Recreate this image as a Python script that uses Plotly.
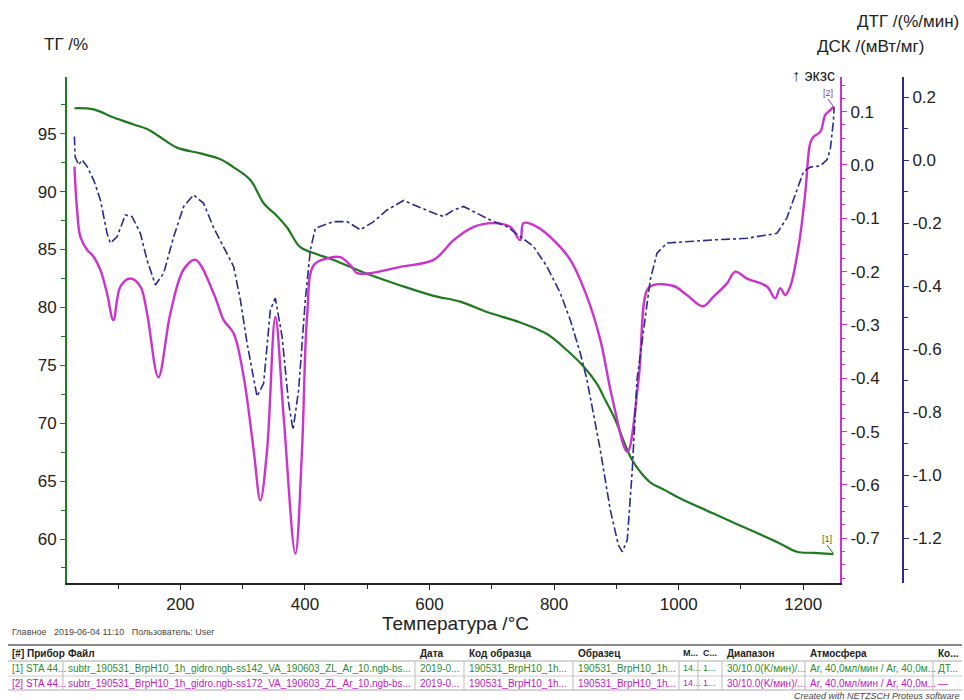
import plotly.graph_objects as go

# ---------------- data ----------------
tg_T = [29.9, 60.8, 92.9, 125, 146.5, 167.9, 194.7, 232.1, 264.2, 285.6, 312.4, 333.7, 355.2,
        371.3, 392.6, 419.4, 446.1, 499.7, 553.1, 606.6, 649.4, 692.3, 745.7, 788.6, 820.7,
        847.3, 868.8, 882.2, 898.2, 914.3, 925.5, 938.4, 954.4, 978.5, 1002.6, 1056, 1109.6,
        1163.2, 1189.9, 1216.5, 1248.6]
tg_val = [97.2, 97.1, 96.4, 95.8, 95.4, 94.7, 93.8, 93.3, 92.8, 92.1, 91.0, 89.0, 87.9,
          86.9, 85.2, 84.6, 84.1, 82.9, 81.9, 81.0, 80.5, 79.6, 78.7, 77.7, 76.3,
          74.9, 73.4, 72.0, 70.3, 68.1, 66.8, 65.8, 64.9, 64.2, 63.5, 62.2, 60.9,
          59.6, 58.9, 58.8, 58.7]

dsc_T = [29.9, 34.2, 39.5, 50.2, 60.8, 71.6, 82.3, 92.5, 103.7, 119.7, 135.8, 146.5, 164.7,
         184, 204.8, 224.1, 253.5, 269.5, 285.6, 301.6, 317.7, 328.4, 339.2, 352.5, 365.8,
         384.6, 395.3, 403.4, 414, 435.5, 456.8, 472.9, 483.6, 510.3, 553.1, 606.6, 638.7,
         670.8, 702.9, 729.7, 745.7, 751, 772.6, 799.2, 826, 852.8, 874.2, 893, 917.5,
         935.6, 949.1, 959.7, 991.8, 1013.3, 1039, 1056, 1077.5, 1090.9, 1109.6, 1141.7,
         1155, 1163, 1171.1, 1179.1, 1192.5, 1203.2, 1211.2, 1216.5, 1227.3, 1235.3, 1240.6,
         1248.6]
dsc_val = [-0.003, -0.084, -0.135, -0.159, -0.172, -0.197, -0.241, -0.291, -0.228, -0.213,
           -0.228, -0.278, -0.398, -0.278, -0.197, -0.178, -0.241, -0.291, -0.316, -0.397,
           -0.535, -0.629, -0.535, -0.285, -0.472, -0.729, -0.535, -0.285, -0.188, -0.175,
           -0.173, -0.188, -0.203, -0.202, -0.191, -0.178, -0.141, -0.116, -0.109, -0.116,
           -0.141, -0.109, -0.116, -0.141, -0.178, -0.247, -0.328, -0.435, -0.538, -0.403,
           -0.235, -0.225, -0.227, -0.244, -0.265, -0.247, -0.222, -0.200, -0.213, -0.228,
           -0.250, -0.231, -0.244, -0.228, -0.153, -0.053, 0.041, 0.053, 0.062, 0.094, 0.100,
           0.109]

dtg_T = [29.9, 31.0, 36.8, 42.2, 50.2, 60.8, 71.6, 82.3, 87.6, 98.4, 111.7, 122.5, 135.8,
         146.5, 159.9, 173.2, 189.2, 205.3, 221.3, 237.4, 253.5, 269.5, 285.6, 296.3, 307.1,
         323.1, 333.7, 344.5, 352.5, 363.3, 373.8, 380.9, 389.9, 400.6, 408.7, 416.7, 446.1,
         467.6, 488.9, 510.3, 531.8, 558.4, 579.9, 606.6, 622.6, 638.7, 654.7, 676.2, 697.6,
         724.4, 745.7, 767.1, 788.6, 810, 826, 842.1, 852.8, 874.2, 890.2, 903.1, 909.5,
         917.5, 925.5, 933.1, 954.4, 965.2, 981.2, 1013.3, 1056, 1109.6, 1157.8, 1173.8,
         1187.2, 1200.5, 1211.2, 1227.3, 1238, 1243.3, 1248.6, 1249.5]
dtg_val = [0.075, 0.011, -0.015, 0.001, -0.020, -0.063, -0.126, -0.232, -0.263, -0.243,
           -0.174, -0.179, -0.232, -0.317, -0.396, -0.359, -0.243, -0.147, -0.110, -0.137,
           -0.215, -0.278, -0.338, -0.443, -0.581, -0.750, -0.708, -0.475, -0.438, -0.560,
           -0.771, -0.856, -0.729, -0.443, -0.285, -0.216, -0.195, -0.195, -0.221, -0.195,
           -0.158, -0.128, -0.147, -0.168, -0.179, -0.158, -0.147, -0.168, -0.190, -0.211,
           -0.243, -0.274, -0.338, -0.422, -0.507, -0.613, -0.697, -0.920, -1.110, -1.221,
           -1.243, -1.205, -0.983, -0.697, -0.380, -0.295, -0.263, -0.258, -0.253, -0.248,
           -0.232, -0.183, -0.110, -0.036, -0.022, -0.018, 0.001, 0.033, 0.128, 0.170]

x_ticks = [200, 400, 600, 800, 1000, 1200]
tg_ticks = [60, 65, 70, 75, 80, 85, 90, 95]
dsc_ticks = [-0.7, -0.6, -0.5, -0.4, -0.3, -0.2, -0.1, 0.0, 0.1]
dtg_ticks = [-1.2, -1.0, -0.8, -0.6, -0.4, -0.2, 0.0, 0.2]

table_header = ["[#] Прибор", "Файл", "Дата", "Код образца", "Образец", "М...", "С...",
                "Диапазон", "Атмосфера", "Ко..."]
table_row1 = ["[1] STA 44...", "subtr_190531_BrpH10_1h_gidro.ngb-ss142_VA_190603_ZL_Ar_10.ngb-bs...",
              "2019-0...", "190531_BrpH10_1h...", "190531_BrpH10_1h...", "14...", "1...",
              "30/10.0(K/мин)/...", "Ar, 40,0мл/мин / Ar, 40,0м...", "ДТ..."]
table_row2 = ["[2] STA 44...", "subtr_190531_BrpH10_1h_gidro.ngb-ss172_VA_190603_ZL_Ar_10.ngb-bs...",
              "2019-0...", "190531_BrpH10_1h...", "190531_BrpH10_1h...", "14...", "1...",
              "30/10.0(K/мин)/...", "Ar, 40,0мл/мин / Ar, 40,0м...", "—"]

# ---------------- layout helpers ----------------
W, H = 964, 700
ML, MR, MT, MB = 67, 30, 77, 117
PW, PH = W - ML - MR, H - MT - MB


def px(x):
    return (x - ML) / PW


def py(y):
    return (H - MB - y) / PH


GREEN = "#1f7a1f"
MAGENTA = "#cc33cc"
NAVY = "#2b2b8c"
FONT = "Liberation Sans, Arial, sans-serif"

fig = go.Figure()
fig.add_trace(go.Scatter(x=tg_T, y=tg_val, mode="lines", line=dict(color=GREEN, width=2.2),
                         yaxis="y", showlegend=False, line_shape="spline"))
fig.add_trace(go.Scatter(x=dtg_T, y=dtg_val, mode="lines",
                         line=dict(color=NAVY, width=1.6, dash="dashdot"),
                         yaxis="y3", showlegend=False))
fig.add_trace(go.Scatter(x=dsc_T, y=dsc_val, mode="lines", line=dict(color=MAGENTA, width=2.4),
                         yaxis="y2", showlegend=False, line_shape="spline"))

tickfont = dict(family=FONT, size=17, color="#222")

fig.update_layout(
    width=W, height=H,
    margin=dict(l=ML, r=MR, t=MT, b=MB, autoexpand=False),
    paper_bgcolor="white", plot_bgcolor="white",
    xaxis=dict(domain=[0, px(840)], range=[18, 1259], tickvals=x_ticks,
               showline=True, linecolor="#222", linewidth=1.5, ticks="outside", ticklen=5,
               tickcolor="#222", showgrid=False, zeroline=False, tickfont=tickfont,
               minor=dict(ticks="outside", tick0=0, dtick=100, ticklen=4, tickcolor="#222")),
    yaxis=dict(range=[56.2, 99.9], tickvals=tg_ticks, showline=True, linecolor=GREEN,
               linewidth=2, ticks="outside", ticklen=5, tickcolor=GREEN, showgrid=False,
               zeroline=False, tickfont=tickfont,
               minor=dict(ticks="outside", tick0=0, dtick=2.5, ticklen=4, tickcolor=GREEN)),
    yaxis2=dict(range=[-0.784, 0.165], tickvals=dsc_ticks,
                ticktext=[f"{v:.1f}" for v in dsc_ticks],
                overlaying="y", side="right", anchor="x", showline=True, linecolor=MAGENTA,
                linewidth=2, ticks="outside", ticklen=5, tickcolor=MAGENTA, showgrid=False,
                zeroline=False, tickfont=tickfont,
                minor=dict(ticks="outside", tick0=0, dtick=0.025, ticklen=3, tickcolor=MAGENTA)),
    yaxis3=dict(range=[-1.342, 0.264], tickvals=dtg_ticks,
                ticktext=[f"{v:.1f}" for v in dtg_ticks],
                overlaying="y", side="right", anchor="free", position=px(903), showline=True,
                linecolor=NAVY, linewidth=2, ticks="outside", ticklen=5, tickcolor=NAVY,
                showgrid=False, zeroline=False, tickfont=tickfont,
                minor=dict(ticks="outside", tick0=0, dtick=0.1, ticklen=4, tickcolor=NAVY)),
)

ann = []


def text(x, y, s, size=17, color="#222", xanchor="center", family=FONT, italic=False):
    if italic:
        s = f"<i>{s}</i>"
    ann.append(dict(x=px(x), y=py(y), xref="paper", yref="paper", text=s, showarrow=False,
                    xanchor=xanchor, yanchor="middle",
                    font=dict(family=family, size=size, color=color)))


text(455, 623, "Температура /°C", size=19)
text(42, 45, "ТГ /%", size=17, xanchor="left")
text(961, 22, "ДТГ /(%/мин)", size=17, xanchor="right")
text(926, 47, "ДСК /(мВт/мг)", size=17, xanchor="right")
text(790, 75, "↑ экзс", size=16, xanchor="left")
text(827, 539, "[1]", size=9, color=GREEN)
text(828, 93, "[2]", size=9, color="#7a3aa8")
text(10, 632, "Главное   2019-06-04 11:10   Пользователь: User", size=9, color="#444",
     xanchor="left")
text(962, 696, "Created with NETZSCH Proteus software", size=9, color="#444",
     xanchor="right", italic=True)

col_x = [10, 66, 418, 467, 576, 681, 701, 725, 808, 936]
col_size = [10, 10, 10, 10, 10, 9, 9, 10, 10, 10]
for cx, cs, h in zip(col_x, col_size, table_header):
    text(cx, 653, f"<b>{h}</b>", size=cs, color="#222", xanchor="left")
for cx, cs, h in zip(col_x, col_size, table_row1):
    text(cx, 668, h, size=cs, color="#2e8b2e", xanchor="left")
for cx, cs, h in zip(col_x, col_size, table_row2):
    text(cx, 683, h, size=cs, color="#c020c0", xanchor="left")

shapes = []


def hline(y, x0, x1, color="#999", width=1):
    shapes.append(dict(type="line", xref="paper", yref="paper", x0=px(x0), x1=px(x1),
                       y0=py(y), y1=py(y), line=dict(color=color, width=width)))


def vline(x, y0, y1, color="#bbb", width=1):
    shapes.append(dict(type="line", xref="paper", yref="paper", x0=px(x), x1=px(x),
                       y0=py(y0), y1=py(y1), line=dict(color=color, width=width)))


hline(645, 8, 962, color="#888", width=2)
hline(661, 8, 962, color="#aaa")
hline(676, 8, 962, color="#ccc")
hline(690, 8, 962, color="#aaa")
for cx in [63, 415, 464, 573, 679, 698, 722, 805, 933]:
    vline(cx, 661, 690)
# leader lines of the curve labels
shapes.append(dict(type="line", xref="paper", yref="paper", x0=px(827), x1=px(833),
                   y0=py(545), y1=py(553), line=dict(color=GREEN, width=1)))
shapes.append(dict(type="line", xref="paper", yref="paper", x0=px(828), x1=px(833),
                   y0=py(99), y1=py(106), line=dict(color="#7a3aa8", width=1)))

fig.update_layout(annotations=ann, shapes=shapes)
fig.write_html("out.html",
               config={"displayModeBar": False},
               post_script="document.body.style.margin='0';document.body.style.padding='0';"
                           "document.body.style.overflow='hidden';")
